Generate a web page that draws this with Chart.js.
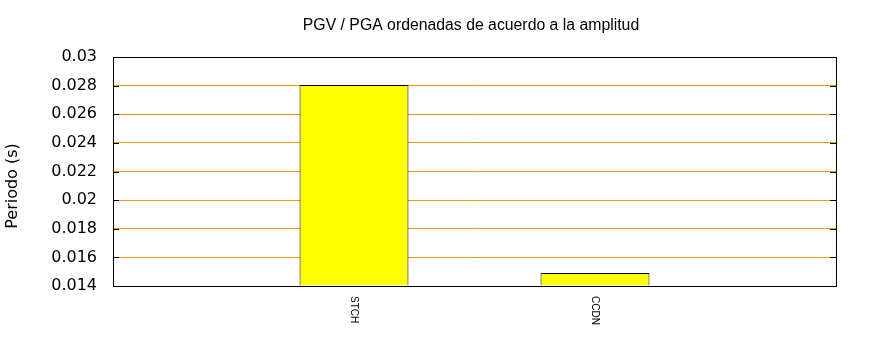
<!DOCTYPE html>
<html>
<head>
<meta charset="utf-8">
<script src="https://cdn.jsdelivr.net/npm/chart.js@4/dist/chart.umd.min.js"></script>
<style>
html,body{margin:0;padding:0;background:#fff;}
#wrap{width:870px;height:350px;position:relative;}
</style>
</head>
<body>
<div id="wrap"><canvas id="c" width="870" height="350"></canvas></div>
<script>
const categories = ['', 'STCH', 'CCDN', ''];
const periodValues = [null, 0.02805, 0.0149, null];
const yMin = 0.014, yMax = 0.03, yStep = 0.002;
const titleText = 'PGV / PGA ordenadas de acuerdo a la amplitud';
const yLabel = 'Periodo (s)';

const GRID = '#e2a200';

const decor = {
  id: 'decor',
  afterDraw(chart) {
    const ctx = chart.ctx, a = chart.chartArea;
    const y = chart.scales.y, x = chart.scales.x;
    ctx.save();
    // tick marks
    ctx.strokeStyle = '#000'; ctx.lineWidth = 1;
    y.ticks.forEach(t => {
      const py = Math.round(y.getPixelForValue(t.value)) + 0.5;
      ctx.beginPath();
      ctx.moveTo(a.left, py); ctx.lineTo(a.left + 6, py);
      ctx.moveTo(a.right - 6, py); ctx.lineTo(a.right, py);
      ctx.stroke();
    });
    // border
    ctx.strokeRect(Math.round(a.left) + 0.5, Math.round(a.top) + 0.5,
                   Math.round(a.right - a.left), Math.round(a.bottom - a.top));
    // title
    ctx.fillStyle = '#000';
    ctx.font = '15.8px "Liberation Sans", Arial, sans-serif';
    ctx.textAlign = 'center'; ctx.textBaseline = 'middle';
    ctx.fillText(titleText, 471, 26);
    // y label
    ctx.save();
    ctx.translate(13, 186);
    ctx.rotate(-Math.PI / 2);
    ctx.font = '16px "DejaVu Sans", sans-serif';
    ctx.fillText(yLabel, 0, 0);
    ctx.restore();
    // x labels rotated clockwise
    ctx.font = '10px "Liberation Sans", Arial, sans-serif';
    categories.forEach((c, i) => {
      if (!c) return;
      const px = x.getPixelForValue(i);
      ctx.save();
      ctx.translate(px, a.bottom + 10);
      ctx.rotate(Math.PI / 2);
      ctx.textAlign = 'left'; ctx.textBaseline = 'middle';
      ctx.fillText(c, 0, 0);
      ctx.restore();
    });
    ctx.restore();
  }
};

new Chart(document.getElementById('c'), {
  type: 'bar',
  data: {
    labels: categories,
    datasets: [{
      data: periodValues,
      backgroundColor: '#ffff00',
      borderColor: '#000000',
      borderWidth: 1,
      barPercentage: 0.452,
      categoryPercentage: 1.0,
      base: yMin
    }]
  },
  options: {
    responsive: false,
    animation: false,
    devicePixelRatio: 1,
    layout: { padding: { top: 57, left: 0, right: 34, bottom: 64 } },
    plugins: { legend: { display: false }, title: { display: false }, tooltip: { enabled: false } },
    scales: {
      x: {
        offset: false,
        grid: { display: false },
        border: { display: false },
        ticks: { display: false },
        afterFit(s) { s.height = 0; }
      },
      y: {
        min: yMin, max: yMax,
        grid: { color: GRID, lineWidth: 1, drawTicks: false },
        border: { display: false },
        ticks: {
          stepSize: yStep,
          color: '#000',
          padding: 16,
          font: { family: '"DejaVu Sans", sans-serif', size: 16 },
          callback: v => String(+Number(v).toFixed(3))
        },
        afterFit(s) { s.width = 113; }
      }
    }
  },
  plugins: [decor]
});
</script>
</body>
</html>
